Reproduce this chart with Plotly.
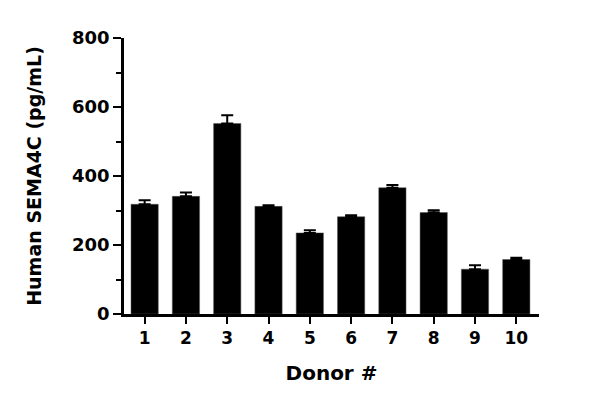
import plotly.graph_objects as go

donors = ["1", "2", "3", "4", "5", "6", "7", "8", "9", "10"]
means = [318, 341, 552, 312, 235, 282, 366, 294, 130, 158]
sem = [12, 11, 24, 3, 8, 4, 8, 7, 11, 5]

x = list(range(1, len(donors) + 1))
font = "DejaVu Sans"

fig = go.Figure()
fig.add_trace(go.Bar(
    x=x, y=means, width=0.66,
    marker=dict(color="black", line=dict(color="#555555", width=0.5)),
    error_y=dict(type="data", array=sem, arrayminus=[0] * len(sem), symmetric=False,
                 color="black", thickness=2, width=6),
))

fig.update_layout(
    width=600, height=404,
    margin=dict(l=116, r=69, t=30, b=98),
    paper_bgcolor="white", plot_bgcolor="white",
    showlegend=False,
    font=dict(family=font, color="black"),
    xaxis=dict(
        range=[0.5, 10.55], tickmode="array", tickvals=x, ticktext=donors,
        showline=True, linecolor="black", linewidth=2.5,
        ticks="outside", ticklen=7, tickwidth=2, tickcolor="black",
        showgrid=False, zeroline=False, automargin=False,
        tickfont=dict(family=font, size=17, weight="bold"),
        title=dict(text="Donor #", font=dict(family=font, size=20, weight="bold"), standoff=19),
    ),
    yaxis=dict(
        range=[0, 800], tickvals=[0, 200, 400, 600, 800],
        showline=True, linecolor="black", linewidth=2.5,
        ticks="outside", ticklen=8, tickwidth=2, tickcolor="black",
        minor=dict(tickvals=[100, 300, 500, 700], ticks="outside", ticklen=5, tickwidth=2, tickcolor="black"),
        showgrid=False, zeroline=False, automargin=False,
        tickfont=dict(family=font, size=18, weight="bold"),
        title=dict(text="Human SEMA4C (pg/mL)", font=dict(family=font, size=19, weight="bold"), standoff=26),
    ),
)

fig.write_html("out.html")
